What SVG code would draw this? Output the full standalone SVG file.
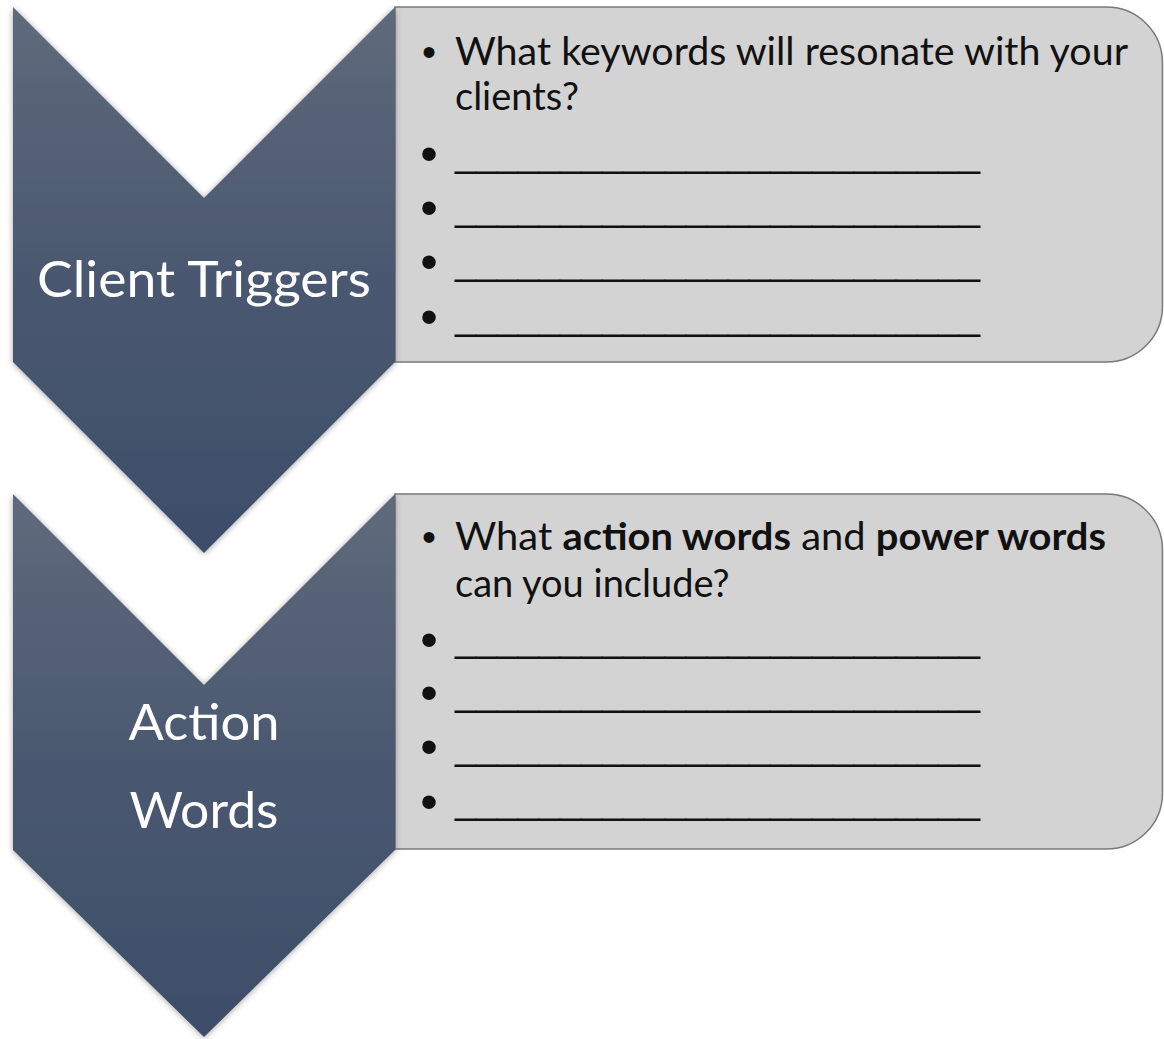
<svg xmlns="http://www.w3.org/2000/svg" width="1164" height="1039" viewBox="0 0 1164 1039">
<style>
.box{fill:#d3d3d3;stroke:#7a7a7a;stroke-width:1.5}
.chev{fill:url(#cg);filter:url(#sh)}
.lbl{font-family:Lato,"Open Sans","Liberation Sans",sans-serif;font-size:51px;fill:#ffffff;text-anchor:middle}
.t{font-family:Lato,"Open Sans","Liberation Sans",sans-serif;font-size:38px;fill:#111111}
.u{font-family:"Liberation Sans",Arial,sans-serif;font-size:40px;fill:#111111}
.b{font-family:"Liberation Sans",Arial,sans-serif;font-size:50px;fill:#111111;text-anchor:middle}
.bs{font-family:"Liberation Sans",Arial,sans-serif;font-size:40px;fill:#111111;text-anchor:middle}
.bold{font-weight:bold}
</style>
<defs>
<linearGradient id="cg" x1="0" y1="0" x2="0" y2="1">
<stop offset="0" stop-color="#5f6a7c"/>
<stop offset="0.5" stop-color="#4a5870"/>
<stop offset="1" stop-color="#3c4d69"/>
</linearGradient>
<filter id="sh" x="-10%" y="-10%" width="120%" height="120%">
<feGaussianBlur in="SourceAlpha" stdDeviation="3"/>
<feOffset dx="0" dy="1" result="b"/>
<feFlood flood-color="#000000" flood-opacity="0.35"/>
<feComposite in2="b" operator="in"/>
<feMerge><feMergeNode/><feMergeNode in="SourceGraphic"/></feMerge>
</filter>
</defs>
<rect width="1164" height="1039" fill="#ffffff"/>

<g id="box1">
<path class="box" d="M395,7 H1106 A56,56 0 0 1 1162.5,63 V306 A56,56 0 0 1 1106,362 H395 Z"/>
<text class="bs" x="429" y="66">•</text>
<text class="t" x="455" y="65" textLength="673" lengthAdjust="spacingAndGlyphs">What keywords will resonate with your</text>
<text class="t" x="455" y="110">clients?</text>
<text class="b" x="429" y="171">•</text>
<text class="u" x="455" y="166" textLength="525" lengthAdjust="spacingAndGlyphs">_________________________</text>
<text class="b" x="429" y="225">•</text>
<text class="u" x="455" y="220" textLength="525" lengthAdjust="spacingAndGlyphs">_________________________</text>
<text class="b" x="429" y="279">•</text>
<text class="u" x="455" y="274" textLength="525" lengthAdjust="spacingAndGlyphs">_________________________</text>
<text class="b" x="429" y="334">•</text>
<text class="u" x="455" y="329" textLength="525" lengthAdjust="spacingAndGlyphs">_________________________</text>
</g>

<g id="box2">
<path class="box" d="M395,494 H1106 A56,56 0 0 1 1162.5,550 V793 A56,56 0 0 1 1106,849 H395 Z"/>
<text class="bs" x="429" y="551">•</text>
<text class="t" x="455" y="550" textLength="651" lengthAdjust="spacingAndGlyphs">What <tspan class="bold">action words</tspan> and <tspan class="bold">power words</tspan></text>
<text class="t" x="455" y="597">can you include?</text>
<text class="b" x="429" y="657">•</text>
<text class="u" x="455" y="651" textLength="525" lengthAdjust="spacingAndGlyphs">_________________________</text>
<text class="b" x="429" y="710">•</text>
<text class="u" x="455" y="705" textLength="525" lengthAdjust="spacingAndGlyphs">_________________________</text>
<text class="b" x="429" y="764">•</text>
<text class="u" x="455" y="759" textLength="525" lengthAdjust="spacingAndGlyphs">_________________________</text>
<text class="b" x="429" y="819">•</text>
<text class="u" x="455" y="813" textLength="525" lengthAdjust="spacingAndGlyphs">_________________________</text>
</g>

<g id="chevron2">
<path class="chev" d="M13,494 L204,685 L395,494 L395,850 L204,1037 L13,850 Z"/>
<text class="lbl" x="204" y="740" textLength="151" lengthAdjust="spacingAndGlyphs">Action</text>
<text class="lbl" x="204" y="828" textLength="149" lengthAdjust="spacingAndGlyphs">Words</text>
</g>

<g id="chevron1">
<path class="chev" d="M13,7 L204,198 L395,7 L395,362 L204,553 L13,362 Z"/>
<text class="lbl" x="204" y="297" textLength="334" lengthAdjust="spacingAndGlyphs">Client Triggers</text>
</g>

<g id="connectors"></g>
</svg>
